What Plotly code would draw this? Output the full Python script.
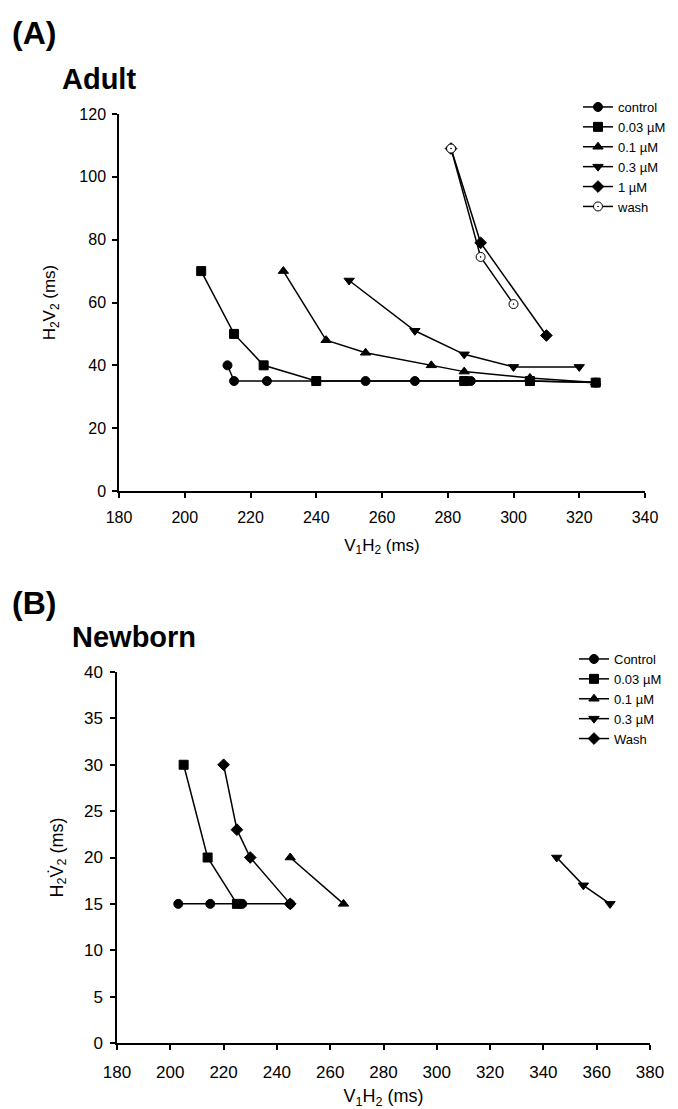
import plotly.graph_objects as go

# ---------------- Panel A (Adult) ----------------
a_control_x = [213, 215, 225, 240, 255, 270, 287, 305, 325]
a_control_y = [40, 35, 35, 35, 35, 35, 35, 35, 34.5]
a_003_x = [205, 215, 224, 240, 285, 305, 325]
a_003_y = [70, 50, 40, 35, 35, 35, 34.5]
a_01_x = [230, 243, 255, 275, 285, 305, 325]
a_01_y = [70, 48, 44, 40, 38, 36, 34.5]
a_03_x = [250, 270, 285, 300, 320]
a_03_y = [67, 51, 43.5, 39.5, 39.5]
a_1_x = [281, 290, 310]
a_1_y = [109, 79, 49.5]
a_wash_x = [281, 290, 300]
a_wash_y = [109, 74.5, 59.5]

# ---------------- Panel B (Newborn) ----------------
b_control_x = [203, 215, 227, 245]
b_control_y = [15, 15, 15, 15]
b_003_x = [205, 214, 225]
b_003_y = [30, 20, 15]
b_01_x = [245, 265]
b_01_y = [20, 15]
b_03_x = [345, 355, 365]
b_03_y = [20, 17, 15]
b_wash_x = [220, 225, 230, 245]
b_wash_y = [30, 23, 20, 15]

labels_a = ["control", "0.03 µM", "0.1 µM", "0.3 µM", "1 µM", "wash"]
labels_b = ["Control", "0.03 µM", "0.1 µM", "0.3 µM", "Wash"]

FONT = "Arial, Liberation Sans, sans-serif"
fig = go.Figure()

def add(x, y, name, symbol, axis, legend, fill="black", size=9):
    fig.add_trace(go.Scatter(
        x=x, y=y, name=name, mode="lines+markers",
        line=dict(color="black", width=1.5),
        marker=dict(symbol=symbol, size=size, color=fill,
                    line=dict(color="black", width=1)),
        xaxis="x" if axis == 1 else "x2",
        yaxis="y" if axis == 1 else "y2",
        legend=legend,
    ))

syms_a = ["circle", "square", "triangle-up", "triangle-down", "diamond", "circle-dot"]
data_a = [(a_control_x, a_control_y), (a_003_x, a_003_y), (a_01_x, a_01_y),
          (a_03_x, a_03_y), (a_1_x, a_1_y), (a_wash_x, a_wash_y)]
for (x, y), lab, s in zip(data_a, labels_a, syms_a):
    add(x, y, lab, s, 1, "legend", fill="white" if s == "circle-dot" else "black")

syms_b = ["circle", "square", "triangle-up", "triangle-down", "diamond"]
data_b = [(b_control_x, b_control_y), (b_003_x, b_003_y), (b_01_x, b_01_y),
          (b_03_x, b_03_y), (b_wash_x, b_wash_y)]
for (x, y), lab, s in zip(data_b, labels_b, syms_b):
    add(x, y, lab, s, 2, "legend2")

W, H = 678, 1109
OFF = 8  # page body margin
def px(v): return (v - OFF) / W
def py(v): return 1 - (v - OFF) / H

def axis_style(fs, lso):
    return dict(showline=True, linecolor="black", linewidth=1.5,
                ticks="outside", ticklen=5, tickcolor="black", tickwidth=1.5,
                showgrid=False, zeroline=False, automargin=False,
                ticklabelstandoff=lso,
                tickfont=dict(family=FONT, size=fs, color="black"))

fig.update_layout(
    template="none",
    width=W, height=H,
    paper_bgcolor="white", plot_bgcolor="white",
    margin=dict(l=0, r=0, t=0, b=0, autoexpand=False),
    font=dict(family=FONT, color="black"),
    xaxis=dict(domain=[px(119), px(645)], range=[180, 340], dtick=20, anchor="y",
               title=dict(text="V<sub>1</sub>H<sub>2</sub> (ms)",
                          font=dict(family=FONT, size=17), standoff=14),
               **axis_style(16, 6)),
    yaxis=dict(domain=[py(491), py(114)], range=[0, 120], dtick=20, anchor="x",
               title=dict(text="H<sub>2</sub>V<sub>2</sub> (ms)",
                          font=dict(family=FONT, size=17), standoff=19),
               **axis_style(16, 3)),
    xaxis2=dict(domain=[px(117), px(650)], range=[180, 380], dtick=20, anchor="y2",
                title=dict(text="V<sub>1</sub>H<sub>2</sub> (ms)",
                           font=dict(family=FONT, size=18), standoff=8),
                **axis_style(17, 8)),
    yaxis2=dict(domain=[py(1043), py(672)], range=[0, 40], dtick=5, anchor="x2",
                title=dict(text="H<sub>2</sub>V̇<sub>2</sub> (ms)",
                           font=dict(family=FONT, size=18), standoff=16),
                **axis_style(17, 4)),
    legend=dict(x=px(578), y=py(92), xanchor="left", yanchor="top",
                bgcolor="rgba(0,0,0,0)", font=dict(family=FONT, size=13),
                itemwidth=30, tracegroupgap=0),
    legend2=dict(x=px(574), y=py(644), xanchor="left", yanchor="top",
                 bgcolor="rgba(0,0,0,0)", font=dict(family=FONT, size=13),
                 itemwidth=30, tracegroupgap=0),
    annotations=[
        dict(text="<b>(A)</b>", x=px(10), y=py(33), xref="paper", yref="paper",
             xanchor="left", yanchor="middle", showarrow=False,
             font=dict(family=FONT, size=32)),
        dict(text="<b>Adult</b>", x=px(60), y=py(79), xref="paper", yref="paper",
             xanchor="left", yanchor="middle", showarrow=False,
             font=dict(family=FONT, size=29)),
        dict(text="<b>(B)</b>", x=px(10), y=py(603), xref="paper", yref="paper",
             xanchor="left", yanchor="middle", showarrow=False,
             font=dict(family=FONT, size=32)),
        dict(text="<b>Newborn</b>", x=px(70), y=py(637), xref="paper", yref="paper",
             xanchor="left", yanchor="middle", showarrow=False,
             font=dict(family=FONT, size=29)),
    ],
)

fig.write_html("out.html")
